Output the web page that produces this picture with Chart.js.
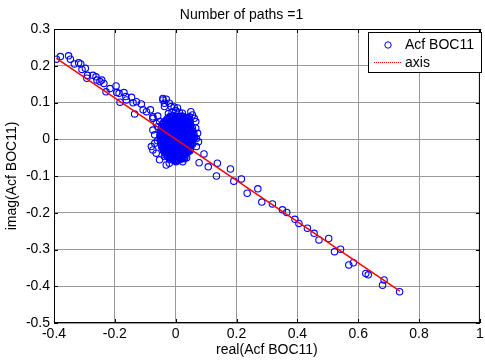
<!DOCTYPE html>
<html>
<head>
<meta charset="utf-8">
<script src="https://cdn.jsdelivr.net/npm/chart.js@4/dist/chart.umd.min.js"></script>
<style>
  html, body { margin: 0; padding: 0; background: #fff; }
  canvas { display: block; }
</style>
</head>
<body>
<canvas id="acf" width="485" height="361"></canvas>
<script>
const FONT = 'Arial, "Liberation Sans", sans-serif';

const xTicks = [-0.4, -0.2, 0, 0.2, 0.4, 0.6, 0.8, 1];
const yTicks = [-0.5, -0.4, -0.3, -0.2, -0.1, 0, 0.1, 0.2, 0.3];

// upper-left arm of the scatter, [real, imag]
const upperArm = [
  [-0.392, 0.218], [-0.379, 0.225], [-0.352, 0.227], [-0.346, 0.218], [-0.333, 0.205],
  [-0.319, 0.208], [-0.312, 0.205], [-0.308, 0.190], [-0.297, 0.193], [-0.290, 0.174],
  [-0.292, 0.166], [-0.272, 0.174], [-0.262, 0.170], [-0.259, 0.161], [-0.249, 0.157],
  [-0.243, 0.161], [-0.236, 0.152], [-0.229, 0.129], [-0.216, 0.138], [-0.196, 0.145],
  [-0.194, 0.127], [-0.186, 0.125], [-0.170, 0.127], [-0.164, 0.116], [-0.183, 0.101],
  [-0.162, 0.107], [-0.145, 0.114], [-0.140, 0.099], [-0.129, 0.102], [-0.113, 0.096],
  [-0.107, 0.080], [-0.135, 0.069], [-0.096, 0.075], [-0.083, 0.080], [-0.075, 0.061],
  [-0.059, 0.063], [-0.042, 0.043], [-0.075, 0.057]
];

// blob around the origin: edge points first, then the packed core
const cluster = [
  [-0.042, 0.111], [-0.031, 0.109], [-0.021, 0.098], [-0.037, 0.098], [-0.015, 0.089],
  [-0.042, 0.107], [-0.037, 0.089], [0.050, 0.075], [0.055, 0.066], [0.061, 0.057],
  [0.066, 0.048], [0.045, 0.061], [0.072, 0.016], [0.075, -0.007], [0.068, -0.020],
  [-0.075, 0.025], [-0.069, 0.012], [-0.080, -0.020], [-0.075, -0.029], [-0.064, -0.038],
  [-0.069, -0.011], [-0.031, -0.070], [-0.021, -0.065], [0.001, -0.061], [0.023, -0.061],
  [-0.037, -0.047], [-0.053, -0.056], [-0.064, 0.043], [-0.059, 0.034], [-0.053, 0.048],
  [-0.012, 0.074], [0.000, 0.078], [0.012, 0.073], [-0.024, 0.070], [0.022, 0.071],
  [0.006, 0.085], [-0.005, 0.088], [0.066, 0.030], [0.068, 0.002], [-0.060, -0.004],
  [-0.020, 0.061], [-0.007, 0.064], [0.008, 0.060], [0.021, 0.063], [0.033, 0.059],
  [-0.035, 0.050], [-0.022, 0.053], [-0.009, 0.049], [0.004, 0.052], [0.017, 0.050],
  [0.030, 0.053], [0.043, 0.049],
  [-0.041, 0.041], [-0.028, 0.038], [-0.015, 0.042], [-0.002, 0.039], [0.011, 0.041],
  [0.024, 0.038], [0.037, 0.042], [0.049, 0.039],
  [-0.047, 0.030], [-0.034, 0.027], [-0.021, 0.031], [-0.008, 0.028], [0.005, 0.030],
  [0.018, 0.027], [0.031, 0.031], [0.044, 0.028], [0.055, 0.030],
  [-0.050, 0.017], [-0.037, 0.020], [-0.024, 0.016], [-0.011, 0.019], [0.002, 0.017],
  [0.015, 0.020], [0.028, 0.016], [0.041, 0.019], [0.054, 0.017],
  [-0.052, 0.008], [-0.039, 0.005], [-0.026, 0.009], [-0.013, 0.006], [0.000, 0.008],
  [0.013, 0.005], [0.026, 0.009], [0.039, 0.006], [0.052, 0.008], [0.062, 0.005],
  [-0.050, -0.003], [-0.037, -0.006], [-0.024, -0.002], [-0.011, -0.005], [0.002, -0.003],
  [0.015, -0.006], [0.028, -0.002], [0.041, -0.005], [0.054, -0.003],
  [-0.048, -0.014], [-0.035, -0.017], [-0.022, -0.013], [-0.009, -0.016], [0.004, -0.014],
  [0.017, -0.017], [0.030, -0.013], [0.043, -0.016], [0.055, -0.014],
  [-0.043, -0.025], [-0.030, -0.028], [-0.017, -0.024], [-0.004, -0.027], [0.009, -0.025],
  [0.022, -0.028], [0.035, -0.024], [0.048, -0.027],
  [-0.036, -0.036], [-0.023, -0.039], [-0.010, -0.035], [0.003, -0.038], [0.016, -0.036],
  [0.029, -0.039], [0.041, -0.035],
  [-0.027, -0.047], [-0.014, -0.050], [-0.001, -0.046], [0.012, -0.049], [0.025, -0.047],
  [0.036, -0.050],
  [-0.012, -0.056], [0.002, -0.059], [0.015, -0.055],
  [-0.028, 0.056], [-0.014, 0.058], [0.001, 0.055], [0.014, 0.057], [0.027, 0.056], [0.039, 0.058],
  [-0.039, 0.045], [-0.025, 0.047], [-0.012, 0.044], [0.001, 0.046], [0.014, 0.045],
  [0.027, 0.047], [0.040, 0.044], [0.048, 0.046],
  [-0.044, 0.034], [-0.031, 0.036], [-0.018, 0.033], [-0.005, 0.035], [0.008, 0.034],
  [0.021, 0.036], [0.034, 0.033], [0.047, 0.035],
  [-0.049, 0.023], [-0.036, 0.025], [-0.023, 0.022], [-0.010, 0.024], [0.003, 0.023],
  [0.016, 0.025], [0.029, 0.022], [0.042, 0.024], [0.053, 0.023],
  [-0.051, 0.012], [-0.038, 0.014], [-0.025, 0.011], [-0.012, 0.013], [0.001, 0.012],
  [0.014, 0.014], [0.027, 0.011], [0.040, 0.013], [0.053, 0.012], [0.060, 0.014],
  [-0.051, 0.001], [-0.038, 0.003], [-0.025, 0.000], [-0.012, 0.002], [0.001, 0.001],
  [0.014, 0.003], [0.027, 0.000], [0.040, 0.002], [0.053, 0.001], [0.061, 0.003],
  [-0.049, -0.010], [-0.036, -0.008], [-0.023, -0.011], [-0.010, -0.009], [0.003, -0.010],
  [0.016, -0.008], [0.029, -0.011], [0.042, -0.009], [0.055, -0.010],
  [-0.046, -0.021], [-0.033, -0.019], [-0.020, -0.022], [-0.007, -0.020], [0.006, -0.021],
  [0.019, -0.019], [0.032, -0.022], [0.045, -0.020],
  [-0.040, -0.032], [-0.027, -0.030], [-0.014, -0.033], [-0.001, -0.031], [0.012, -0.032],
  [0.025, -0.030], [0.038, -0.033], [0.047, -0.031],
  [-0.032, -0.043], [-0.019, -0.041], [-0.006, -0.044], [0.007, -0.042], [0.020, -0.043],
  [0.032, -0.041],
  [-0.020, -0.053], [-0.007, -0.051], [0.006, -0.054], [0.019, -0.052], [0.029, -0.053]
];

// more core points packed between the ones above
const clusterFill = [
  [-0.013, 0.063], [0.001, 0.061], [0.014, 0.062], [0.027, 0.060],
  [-0.028, 0.052], [-0.015, 0.050], [-0.002, 0.051], [0.010, 0.049], [0.023, 0.052], [0.036, 0.050],
  [-0.034, 0.040], [-0.021, 0.039], [-0.008, 0.041], [0.005, 0.040], [0.018, 0.039], [0.031, 0.041],
  [0.043, 0.040],
  [-0.040, 0.029], [-0.027, 0.030], [-0.014, 0.028], [-0.001, 0.029], [0.012, 0.030], [0.025, 0.028],
  [0.038, 0.029], [0.050, 0.030],
  [-0.043, 0.018], [-0.030, 0.017], [-0.017, 0.019], [-0.004, 0.018], [0.009, 0.017], [0.022, 0.019],
  [0.035, 0.018], [0.048, 0.017],
  [-0.045, 0.007], [-0.032, 0.008], [-0.019, 0.006], [-0.006, 0.007], [0.007, 0.008], [0.020, 0.006],
  [0.033, 0.007], [0.046, 0.008], [0.057, 0.006],
  [-0.043, -0.004], [-0.030, -0.003], [-0.017, -0.005], [-0.004, -0.004], [0.009, -0.003],
  [0.022, -0.005], [0.035, -0.004], [0.048, -0.003],
  [-0.041, -0.015], [-0.028, -0.016], [-0.015, -0.014], [-0.002, -0.015], [0.010, -0.016],
  [0.023, -0.014], [0.036, -0.015], [0.049, -0.016],
  [-0.036, -0.026], [-0.023, -0.025], [-0.010, -0.027], [0.003, -0.026], [0.016, -0.025],
  [0.029, -0.027], [0.042, -0.026],
  [-0.029, -0.037], [-0.016, -0.038], [-0.003, -0.036], [0.010, -0.037], [0.022, -0.038], [0.035, -0.036],
  [-0.020, -0.048], [-0.007, -0.049], [0.006, -0.047], [0.019, -0.048], [0.030, -0.049],
  [-0.005, -0.057], [0.008, -0.058],
  [-0.021, 0.057], [-0.007, 0.058], [0.008, 0.056], [0.021, 0.058], [0.033, 0.057],
  [-0.032, 0.046], [-0.019, 0.045], [-0.005, 0.047], [0.008, 0.046], [0.020, 0.045], [0.034, 0.047],
  [0.044, 0.046],
  [-0.038, 0.035], [-0.025, 0.034], [-0.012, 0.036], [0.002, 0.035], [0.015, 0.034], [0.028, 0.036],
  [0.040, 0.035],
  [-0.043, 0.024], [-0.030, 0.023], [-0.017, 0.025], [-0.004, 0.024], [0.010, 0.023], [0.023, 0.025],
  [0.036, 0.024], [0.048, 0.023],
  [-0.045, 0.013], [-0.032, 0.012], [-0.019, 0.014], [-0.006, 0.013], [0.008, 0.012], [0.021, 0.014],
  [0.034, 0.013], [0.047, 0.012], [0.057, 0.013],
  [-0.045, 0.002], [-0.032, 0.001], [-0.019, 0.003], [-0.006, 0.002], [0.008, 0.001], [0.021, 0.003],
  [0.034, 0.002], [0.047, 0.001], [0.057, 0.002],
  [-0.043, -0.009], [-0.030, -0.010], [-0.017, -0.008], [-0.004, -0.009], [0.010, -0.010],
  [0.023, -0.008], [0.036, -0.009], [0.049, -0.010],
  [-0.040, -0.020], [-0.027, -0.021], [-0.014, -0.019], [-0.001, -0.020], [0.013, -0.021],
  [0.026, -0.019], [0.039, -0.020],
  [-0.034, -0.031], [-0.021, -0.032], [-0.008, -0.030], [0.006, -0.031], [0.019, -0.032],
  [0.032, -0.030], [0.042, -0.031],
  [-0.026, -0.042], [-0.013, -0.043], [0.001, -0.041], [0.014, -0.042], [0.026, -0.043],
  [-0.014, -0.052], [0.000, -0.053], [0.013, -0.051], [0.024, -0.052]
];

// lower-right arm
const lowerArm = [
  [0.093, -0.040], [0.077, -0.064], [0.107, -0.075], [0.137, -0.065], [0.134, -0.100],
  [0.180, -0.081], [0.191, -0.114], [0.216, -0.108], [0.235, -0.147], [0.270, -0.135],
  [0.283, -0.171], [0.318, -0.176], [0.351, -0.192], [0.365, -0.199], [0.392, -0.218],
  [0.405, -0.229], [0.433, -0.242], [0.455, -0.256], [0.471, -0.274], [0.503, -0.270],
  [0.522, -0.306], [0.542, -0.299], [0.569, -0.342], [0.584, -0.336], [0.625, -0.365],
  [0.633, -0.369], [0.680, -0.397], [0.685, -0.383], [0.736, -0.415]
];

// fitted axis (red line)
const axisLine = [[-0.392, 0.220], [0.737, -0.413]];

const toXY = arr => arr.map(p => ({ x: p[0], y: p[1] }));

const frame = {
  id: 'frame',
  afterDatasetsDraw(chart) {
    const { ctx, chartArea: a, scales } = chart;
    ctx.save();
    ctx.strokeStyle = '#000';
    ctx.lineWidth = 1;
    ctx.strokeRect(a.left + 0.5, a.top + 0.5, a.right - a.left - 1, a.bottom - a.top - 1);
    ctx.beginPath();
    xTicks.forEach(v => {
      const px = Math.round(scales.x.getPixelForValue(v)) + 0.5;
      ctx.moveTo(px, a.bottom); ctx.lineTo(px, a.bottom - 4);
      ctx.moveTo(px, a.top); ctx.lineTo(px, a.top + 4);
    });
    yTicks.forEach(v => {
      const py = Math.round(scales.y.getPixelForValue(v)) + 0.5;
      ctx.moveTo(a.left, py); ctx.lineTo(a.left + 4, py);
      ctx.moveTo(a.right, py); ctx.lineTo(a.right - 4, py);
    });
    ctx.stroke();
    ctx.restore();
  }
};

const legendBox = {
  id: 'legendBox',
  afterDraw(chart) {
    const ctx = chart.ctx;
    const ds = chart.data.datasets;
    const x = 368, y = 32, w = 113, h = 40;
    ctx.save();
    ctx.fillStyle = '#fff';
    ctx.fillRect(x, y, w, h);
    ctx.strokeStyle = '#000';
    ctx.lineWidth = 1;
    ctx.strokeRect(x + 0.5, y + 0.5, w, h);
    ctx.strokeStyle = '#0000ff';
    ctx.beginPath();
    ctx.arc(388, 45, 3.2, 0, Math.PI * 2);
    ctx.stroke();
    ctx.strokeStyle = '#ff0000';
    ctx.setLineDash([1, 1]);
    ctx.beginPath();
    ctx.moveTo(374, 62.5); ctx.lineTo(402, 62.5);
    ctx.stroke();
    ctx.setLineDash([]);
    ctx.fillStyle = '#000';
    ctx.font = '14px ' + FONT;
    ctx.textBaseline = 'middle';
    ctx.fillText(ds[0].label, 405, 45);
    ctx.fillText(ds[1].label, 405, 63);
    ctx.restore();
  }
};

new Chart(document.getElementById('acf'), {
  type: 'scatter',
  data: {
    datasets: [{
      label: 'Acf BOC11',
      data: toXY(upperArm.concat(cluster, clusterFill, lowerArm)),
      pointStyle: 'circle',
      pointRadius: 3.2,
      pointBorderWidth: 1.1,
      pointBorderColor: '#0000ff',
      pointBackgroundColor: 'rgba(0,0,0,0)',
      order: 1
    }, {
      label: 'axis',
      data: toXY(axisLine),
      showLine: true,
      borderColor: '#ff0000',
      borderWidth: 1.5,
      pointRadius: 0,
      order: 0
    }]
  },
  options: {
    responsive: false,
    animation: false,
    devicePixelRatio: 1,
    layout: { padding: { left: 0, right: 2, top: 0, bottom: 0 } },
    plugins: {
      legend: { display: false },
      tooltip: { enabled: false },
      title: {
        display: true,
        text: 'Number of paths =1',
        color: '#000',
        font: { family: FONT, size: 14, weight: 'normal' },
        padding: { top: 6.5, bottom: 5.7 }
      }
    },
    scales: {
      x: {
        type: 'linear',
        min: -0.4,
        max: 1,
        afterBuildTicks: s => { s.ticks = xTicks.map(v => ({ value: v })); },
        afterFit: s => { s.height = 38; s.paddingLeft = 0; s.paddingRight = 0; },
        ticks: {
          color: '#000',
          padding: 3,
          maxRotation: 0,
          font: { family: FONT, size: 14 },
          callback: v => String(v)
        },
        grid: { color: '#9a9a9a', lineWidth: 1, drawTicks: false },
        border: { display: false },
        title: {
          display: true,
          text: 'real(Acf BOC11)',
          color: '#000',
          font: { family: FONT, size: 14 },
          padding: { top: 0, bottom: 2.6 }
        }
      },
      y: {
        type: 'linear',
        min: -0.5,
        max: 0.3,
        afterBuildTicks: s => { s.ticks = yTicks.map(v => ({ value: v })); },
        afterFit: s => { s.width = 54; s.paddingTop = 0; s.paddingBottom = 0; },
        ticks: {
          color: '#000',
          padding: 4,
          font: { family: FONT, size: 14 },
          callback: v => String(v)
        },
        grid: { color: '#9a9a9a', lineWidth: 1, drawTicks: false },
        border: { display: false },
        title: {
          display: true,
          text: 'imag(Acf BOC11)',
          color: '#000',
          font: { family: FONT, size: 14 },
          padding: { top: 3.6, bottom: 0 }
        }
      }
    }
  },
  plugins: [frame, legendBox]
});
</script>
</body>
</html>
